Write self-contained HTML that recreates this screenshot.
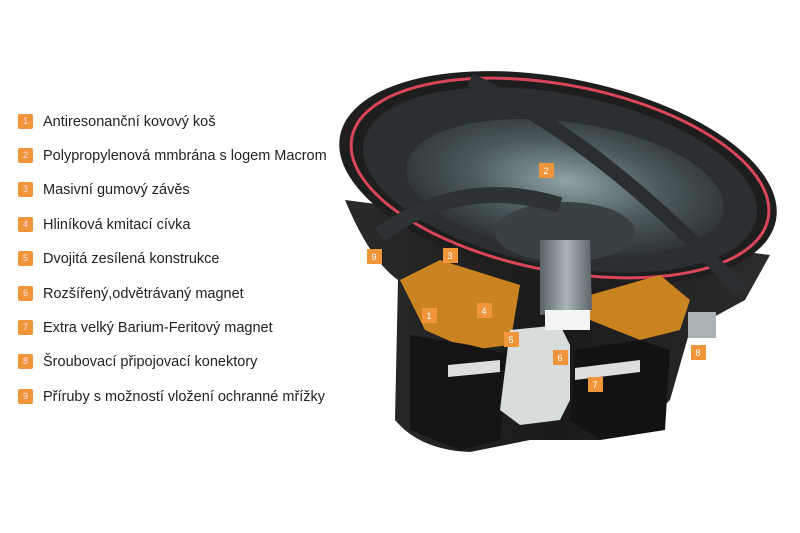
<!DOCTYPE html>
<html><head><meta charset="utf-8"><style>
html,body{margin:0;padding:0;background:#fff;width:800px;height:533px;overflow:hidden;font-family:"Liberation Sans",sans-serif}
.row{position:absolute;left:18px;font-size:14.5px;color:#222;height:16px;line-height:16px}
.row b{display:inline-block;width:15px;height:15px;background:#f0953a;color:#fde;font-size:9px;font-weight:normal;text-align:center;line-height:15px;border-radius:2px;margin-right:10px;vertical-align:top}
svg{position:absolute;left:0;top:0}
</style></head><body>
<svg width="800" height="533" viewBox="0 0 800 533">
<defs>
<radialGradient id="cone" cx="0.5" cy="0.45" r="0.6"><stop offset="0" stop-color="#8fa3a6"/><stop offset="0.5" stop-color="#4c5a5d"/><stop offset="1" stop-color="#262a2c"/></radialGradient>
<linearGradient id="pole" x1="0" x2="1"><stop offset="0" stop-color="#5a6268"/><stop offset="0.5" stop-color="#a9b3b8"/><stop offset="1" stop-color="#5d666b"/></linearGradient>
<linearGradient id="body" x1="0" x2="1"><stop offset="0" stop-color="#2a2a2a"/><stop offset="0.5" stop-color="#1a1a1a"/><stop offset="1" stop-color="#2c2c2c"/></linearGradient>
</defs>
<path d="M345 200 Q370 260 398 280 L395 420 Q420 450 470 452 L530 440 L600 440 L640 430 L670 400 L690 330 L745 300 L770 255 Z" fill="url(#body)"/>
<ellipse cx="558" cy="178" rx="222" ry="100" transform="rotate(11 558 178)" fill="#1e1e1e"/>
<ellipse cx="560" cy="178" rx="212" ry="93" transform="rotate(11 560 178)" fill="none" stroke="#d9465a" stroke-width="3"/>
<ellipse cx="560" cy="180" rx="200" ry="86" transform="rotate(11 560 180)" fill="#2b2f31"/>
<ellipse cx="565" cy="188" rx="160" ry="66" transform="rotate(8 565 188)" fill="url(#cone)"/>
<ellipse cx="565" cy="232" rx="70" ry="30" fill="#3a4143"/>
<path d="M380 235 Q460 175 560 205" stroke="#2e3234" stroke-width="16" fill="none"/>
<path d="M470 80 Q600 140 740 290" stroke="#2b2e30" stroke-width="14" fill="none"/>
<path d="M400 280 L440 260 L520 285 L510 345 L470 350 L425 330 Z" fill="#c98320"/>
<path d="M590 295 L660 275 L690 300 L680 330 L640 340 L590 320 Z" fill="#c98320"/>
<path d="M410 335 L470 345 L510 355 L500 440 L460 450 L410 430 Z" fill="#141414"/>
<path d="M575 350 L640 340 L670 350 L665 430 L600 440 L570 420 Z" fill="#121212"/>
<path d="M510 330 L560 325 L570 345 L570 400 L560 420 L520 425 L500 410 Z" fill="#d7dcdd"/>
<path d="M540 240 L590 240 L592 310 L540 315 Z" fill="url(#pole)"/>
<path d="M545 310 L590 310 L590 330 L545 330 Z" fill="#f4f4f4"/>
<path d="M448 365 L500 360 L500 372 L448 377 Z" fill="#ddd"/>
<path d="M575 368 L640 360 L640 372 L575 380 Z" fill="#ddd"/>
<rect x="688" y="312" width="28" height="26" fill="#a9b2b5"/>
<g font-family="Liberation Sans" font-size="9" fill="#fff" text-anchor="middle">
<rect x="539" y="163" width="15" height="15" fill="#f0953a"/><text x="546" y="174">2</text>
<rect x="367" y="249" width="15" height="15" fill="#f0953a"/><text x="374" y="260">9</text>
<rect x="443" y="248" width="15" height="15" fill="#f0953a"/><text x="450" y="259">3</text>
<rect x="422" y="308" width="15" height="15" fill="#f0953a"/><text x="429" y="319">1</text>
<rect x="477" y="303" width="15" height="15" fill="#f0953a"/><text x="484" y="314">4</text>
<rect x="504" y="332" width="15" height="15" fill="#f0953a"/><text x="511" y="343">5</text>
<rect x="553" y="350" width="15" height="15" fill="#f0953a"/><text x="560" y="361">6</text>
<rect x="588" y="377" width="15" height="15" fill="#f0953a"/><text x="595" y="388">7</text>
<rect x="691" y="345" width="15" height="15" fill="#f0953a"/><text x="698" y="356">8</text>
</g>
</svg>
<div class="row" style="top:114px"><b>1</b>Antiresonanční kovový koš</div>
<div class="row" style="top:148px"><b>2</b>Polypropylenová mmbrána s logem Macrom</div>
<div class="row" style="top:182px"><b>3</b>Masivní gumový závěs</div>
<div class="row" style="top:217px"><b>4</b>Hliníková kmitací cívka</div>
<div class="row" style="top:251px"><b>5</b>Dvojitá zesílená konstrukce</div>
<div class="row" style="top:286px"><b>6</b>Rozšířený,odvětrávaný magnet</div>
<div class="row" style="top:320px"><b>7</b>Extra velký Barium-Feritový magnet</div>
<div class="row" style="top:354px"><b>8</b>Šroubovací připojovací konektory</div>
<div class="row" style="top:389px"><b>9</b>Příruby s možností vložení ochranné mřížky</div>
</body></html>
